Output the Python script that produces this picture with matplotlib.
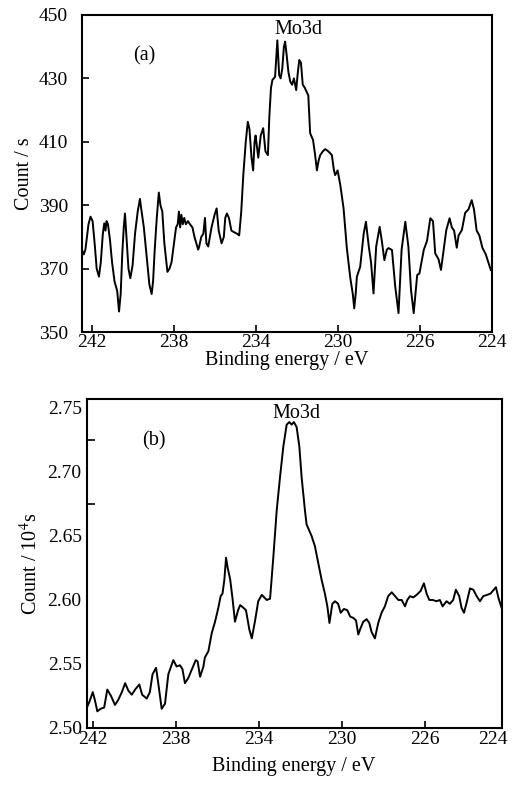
import matplotlib.pyplot as plt
import numpy as np

plt.rcParams['font.family'] = ['Liberation Serif', 'DejaVu Serif']
plt.rcParams['font.size'] = 14
plt.rcParams['mathtext.fontset'] = 'stix'

# panel (a): Mo3d, count / s
energy_a = [242.44, 242.38, 242.30, 242.15, 242.05, 241.95, 241.85, 241.75, 241.64, 241.55,
            241.45, 241.38, 241.32, 241.27, 241.20, 241.10, 241.00, 240.88, 240.75, 240.66,
            240.58, 240.50, 240.43, 240.37, 240.30, 240.20, 240.11, 240.00, 239.88, 239.75,
            239.64, 239.58, 239.45, 239.30, 239.18, 239.07, 239.00, 238.92, 238.82, 238.72,
            238.64, 238.55, 238.45, 238.30, 238.20, 238.10, 237.98, 237.88, 237.80, 237.74,
            237.68, 237.62, 237.55, 237.48, 237.40, 237.30, 237.20, 237.08, 236.98, 236.80,
            236.75, 236.65, 236.55, 236.47, 236.40, 236.31, 236.15, 236.00, 235.90, 235.80,
            235.66, 235.55, 235.48, 235.40, 235.30, 235.18, 235.05, 234.90, 234.80, 234.70,
            234.60, 234.48, 234.38, 234.30, 234.20, 234.12, 234.05, 234.00, 233.87, 233.75,
            233.63, 233.52, 233.40, 233.33, 233.25, 233.18, 233.05, 232.98, 232.94, 232.89,
            232.85, 232.78, 232.70, 232.62, 232.56, 232.48, 232.40, 232.31, 232.22, 232.13,
            232.02, 231.94, 231.87, 231.79, 231.70, 231.60, 231.43, 231.34, 231.20, 231.10,
            231.01, 230.93, 230.85, 230.72, 230.61, 230.45, 230.28, 230.18, 230.12, 230.00,
            229.87, 229.71, 229.55, 229.38, 229.26, 229.19, 229.12, 229.06, 228.90, 228.73,
            228.62, 228.48, 228.37, 228.25, 228.12, 227.95, 227.85, 227.72, 227.60, 227.52,
            227.35, 227.19, 227.03, 226.88, 226.70, 226.55, 226.42, 226.29, 226.12, 226.01,
            225.80, 225.64, 225.48, 225.35, 225.24, 225.08, 224.96, 224.83, 224.70, 224.54,
            224.43, 224.32, 224.19, 224.10, 223.94, 223.78, 223.62, 223.46, 223.35, 223.22,
            223.09, 222.94, 222.78, 222.67, 222.53]
count_a = [375.5, 374.5, 376, 384, 386.4, 385, 378, 370, 367.5, 372,
           381, 384.3, 382, 385, 384, 379, 372, 366, 363, 356.5,
           362, 375, 383, 387.4, 380, 370, 367, 371, 381, 388,
           392, 389, 383, 373, 365, 362, 366, 376, 386, 394,
           390, 388, 378, 369, 370, 372, 378, 383, 384, 388,
           383, 387, 384, 386, 384, 385, 384, 383, 380, 376,
           377, 380, 381, 386, 378, 377, 383, 387, 389, 382,
           378, 380, 386, 387.4, 386, 382, 381.5, 381, 380.5, 388,
           399.5, 410, 416.3, 414, 405, 401, 410, 412, 405, 412,
           414.3, 407, 405.8, 418, 427, 429.5, 430.5, 438, 442, 436,
           431, 430, 433, 440, 441.6, 437, 432, 429, 428, 430,
           426.3, 432, 435.8, 435, 428, 427, 424.6, 412.7, 410.6, 406,
           401, 404, 405.8, 407, 407.7, 407, 405.8, 401, 399.5, 401,
           396.4, 389, 376.4, 367, 362, 357.5, 362, 367.5, 370.6, 381,
           384.8, 377, 372, 362.2, 377, 383.2, 379, 372.7, 376, 376.5,
           375.9, 364.3, 356, 376, 384.8, 377, 363.2, 356, 368, 368.5,
           375.9, 378.8, 385.9, 385, 374.8, 373, 369.6, 376, 382.2, 385.9,
           383, 382, 376.6, 380.5, 382.2, 387.6, 388.7, 391.6, 388.7, 382,
           380.5, 376.6, 374.6, 372.4, 369.6]

# panel (b): Mo3d, count / 10^4 s
energy_b = [242.28, 242.15, 242.00, 241.90, 241.78, 241.62, 241.45, 241.30, 241.12, 240.93,
            240.77, 240.60, 240.44, 240.28, 240.12, 239.96, 239.76, 239.62, 239.40, 239.25,
            239.12, 238.95, 238.82, 238.68, 238.52, 238.36, 238.12, 237.96, 237.80, 237.68,
            237.56, 237.40, 237.22, 237.04, 236.95, 236.83, 236.67, 236.60, 236.43, 236.27,
            236.11, 235.95, 235.84, 235.75, 235.66, 235.58, 235.50, 235.38, 235.26, 235.15,
            235.00, 234.90, 234.75, 234.62, 234.46, 234.34, 234.18, 234.03, 233.86, 233.62,
            233.46, 233.30, 233.14, 232.98, 232.82, 232.66, 232.53, 232.42, 232.31, 232.18,
            232.05, 231.94, 231.78, 231.70, 231.46, 231.30, 231.14, 230.98, 230.82, 230.70,
            230.60, 230.46, 230.33, 230.18, 230.06, 229.90, 229.74, 229.60, 229.45, 229.32,
            229.21, 229.10, 228.97, 228.81, 228.68, 228.57, 228.41, 228.25, 228.09, 227.93,
            227.77, 227.60, 227.44, 227.28, 227.12, 226.96, 226.85, 226.72, 226.56, 226.40,
            226.21, 226.05, 225.92, 225.79, 225.63, 225.44, 225.28, 225.15, 224.96, 224.80,
            224.64, 224.51, 224.35, 224.24, 224.12, 223.99, 223.83, 223.67, 223.51, 223.35,
            223.19, 223.00, 222.84, 222.58, 222.45, 222.31]
count_b = [2.516, 2.521, 2.528, 2.522, 2.513, 2.515, 2.516, 2.530, 2.525, 2.518,
           2.522, 2.528, 2.535, 2.529, 2.526, 2.530, 2.534, 2.526, 2.523, 2.528,
           2.542, 2.547, 2.532, 2.515, 2.519, 2.542, 2.553, 2.548, 2.549, 2.546,
           2.535, 2.539, 2.546, 2.553, 2.552, 2.540, 2.548, 2.555, 2.560, 2.574,
           2.583, 2.594, 2.603, 2.605, 2.616, 2.633, 2.625, 2.616, 2.600, 2.583,
           2.592, 2.596, 2.594, 2.592, 2.577, 2.570, 2.584, 2.599, 2.604, 2.600,
           2.601, 2.634, 2.670, 2.696, 2.720, 2.737, 2.739, 2.737, 2.739, 2.735,
           2.720, 2.696, 2.670, 2.659, 2.650, 2.642, 2.629, 2.616, 2.605, 2.595,
           2.582, 2.597, 2.599, 2.597, 2.590, 2.593, 2.592, 2.587, 2.586, 2.584,
           2.573, 2.578, 2.583, 2.585, 2.582, 2.575, 2.570, 2.582, 2.590, 2.595,
           2.603, 2.606, 2.603, 2.600, 2.600, 2.595, 2.600, 2.603, 2.602, 2.604,
           2.607, 2.613, 2.605, 2.600, 2.600, 2.599, 2.600, 2.595, 2.599, 2.597,
           2.600, 2.608, 2.603, 2.594, 2.590, 2.598, 2.609, 2.608, 2.603, 2.599,
           2.603, 2.604, 2.605, 2.610, 2.601, 2.594]

xticks = [242, 238, 234, 230, 226]
xtick_labels = ['242', '238', '234', '230', '226', '224']
yticks_a = [350, 370, 390, 410, 430, 450]
yticks_b = [2.50, 2.55, 2.60, 2.65, 2.70, 2.75]

LAB = 14.5
TICK = 14

fig = plt.figure(figsize=(5.12, 7.87), dpi=100)

# ---- (a)
ax1 = fig.add_axes([0.160, 0.578, 0.801, 0.403])
ax1.plot(energy_a, count_a, color='black', lw=1.4)
xlim_a = (242.47, 222.47)
ax1.set_xlim(*xlim_a)
ax1.set_ylim(350, 450)
ax1.set_xticks(xticks + [222.47])
ax1.set_xticklabels(xtick_labels)
ax1.xaxis.get_major_ticks()[-1].tick1line.set_visible(False)
ax1.set_yticks(yticks_a)
ax1.tick_params(axis='x', direction='in', length=5, width=1.2, pad=1, labelsize=TICK)
ax1.tick_params(axis='y', direction='in', length=5, width=1.2, pad=10, labelsize=TICK)
ax1.set_xlabel('Binding energy / eV', labelpad=0, fontsize=LAB)
ax1.set_ylabel('Count / s', labelpad=3, fontsize=LAB)
ax1.text(0.125, 0.855, '(a)', transform=ax1.transAxes, fontsize=LAB)
ax1.text(0.527, 0.985, 'Mo3d', transform=ax1.transAxes, ha='center', va='top', fontsize=LAB)
for s in ax1.spines.values():
    s.set_linewidth(1.5)

# ---- (b)
ax2 = fig.add_axes([0.169, 0.075, 0.811, 0.418])
ax2.plot(energy_b, count_b, color='black', lw=1.4)
xlim_b = (242.3, 222.3)
ax2.set_xlim(*xlim_b)
ax2.set_ylim(2.50, 2.757)
ax2.set_xticks(xticks + [222.75])
ax2.set_xticklabels(xtick_labels)
ax2.xaxis.get_major_ticks()[-1].tick1line.set_visible(False)
ax2.set_yticks(yticks_b)
ax2.set_yticklabels(['%.2f' % v for v in yticks_b])
ax2.set_yticks([2.675, 2.725], minor=True)
ax2.tick_params(axis='x', direction='in', length=5, width=1.2, pad=2, labelsize=TICK)
ax2.tick_params(axis='y', which='major', length=0, pad=3.5, labelsize=TICK)
ax2.tick_params(axis='y', which='minor', direction='in', length=6, width=1.2)
ax2.set_xlabel('Binding energy / eV', labelpad=7, fontsize=LAB)
ax2.set_ylabel('Count / 10$^4$s', labelpad=4, fontsize=LAB)
ax2.text(0.135, 0.86, '(b)', transform=ax2.transAxes, fontsize=LAB)
ax2.text(0.505, 0.985, 'Mo3d', transform=ax2.transAxes, ha='center', va='top', fontsize=LAB)
for s in ax2.spines.values():
    s.set_linewidth(1.5)

fig.savefig('out.png', dpi=100)
